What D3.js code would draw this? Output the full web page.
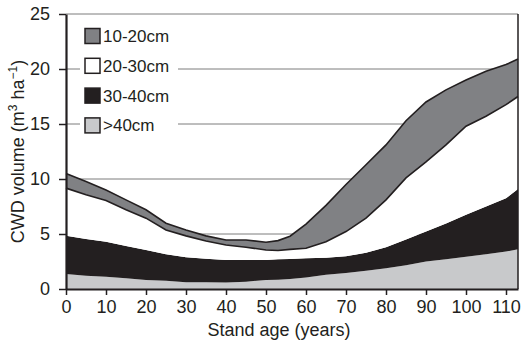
<!DOCTYPE html>
<html>
<head>
<meta charset="utf-8">
<script src="https://cdn.jsdelivr.net/npm/d3@7"></script>
<style>
  body { margin: 0; background: #fff; }
  svg { display: block; font-family: "Liberation Sans", Arial, sans-serif; }
</style>
</head>
<body>
<svg id="svg" width="521" height="344"></svg>
<script>
// stand age (years) where the curves were read
const ages = [0, 5, 10, 15, 20, 25, 30, 35, 40, 45, 50, 53, 56, 60, 65, 70, 75, 80, 85, 90, 95, 100, 105, 110, 113];

// CWD volume per diameter class (m3/ha), stacked bottom to top
const over40 = [1.37, 1.21, 1.12, 0.97, 0.82, 0.76, 0.62, 0.61, 0.58, 0.67, 0.82, 0.85, 0.91, 1.05, 1.30, 1.45, 1.65, 1.88, 2.15, 2.49, 2.70, 2.94, 3.15, 3.40, 3.61];
const c30to40 = [3.46, 3.34, 3.18, 2.95, 2.73, 2.40, 2.26, 2.15, 2.06, 1.97, 1.82, 1.85, 1.82, 1.75, 1.55, 1.52, 1.65, 1.92, 2.35, 2.73, 3.25, 3.80, 4.35, 4.86, 5.47];
const c20to30 = [4.34, 4.01, 3.75, 3.28, 2.89, 2.21, 1.95, 1.61, 1.36, 1.16, 0.91, 0.80, 0.87, 0.90, 1.45, 2.25, 3.14, 4.30, 5.60, 6.33, 7.15, 8.06, 8.20, 8.50, 8.42];
const c10to20 = [1.33, 1.21, 0.95, 0.90, 0.76, 0.61, 0.54, 0.46, 0.46, 0.66, 0.70, 0.90, 1.20, 2.20, 3.30, 4.28, 4.86, 5.00, 5.20, 5.45, 5.00, 4.20, 4.10, 3.64, 3.40];

const keys = [">40cm", "30-40cm", "20-30cm", "10-20cm"];
const legendOrder = ["10-20cm", "20-30cm", "30-40cm", ">40cm"];
const xTicks = [0, 10, 20, 30, 40, 50, 60, 70, 80, 90, 100, 110];
const yTicks = [0, 5, 10, 15, 20, 25];

const colors = {
    ">40cm": "#c8c9cb",
    "30-40cm": "#231f20",
    "20-30cm": "#ffffff",
    "10-20cm": "#808184"
};

// table for d3.stack
const rows = ages.map((a, i) => ({
    age: a,
    ">40cm": over40[i],
    "30-40cm": c30to40[i],
    "20-30cm": c20to30[i],
    "10-20cm": c10to20[i]
}));

const margins = { left: 66, right: 3, top: 14, bottom: 55 };
const dims = { width: 521, height: 344 };

const xScale = d3.scaleLinear()
    .domain([0, 113])
    .range([margins.left, dims.width - margins.right]);
const yScale = d3.scaleLinear()
    .domain([0, 25])
    .range([dims.height - margins.bottom, margins.top]);

const mySvg = d3.select("#svg");

// gridlines (hidden under the areas)
mySvg.append("g")
    .selectAll("line")
    .data(yTicks.filter(d => d > 0))
    .join("line")
    .attr("x1", xScale(0))
    .attr("x2", xScale(113))
    .attr("y1", d => yScale(d))
    .attr("y2", d => yScale(d))
    .attr("stroke", "#7d7d7d")
    .attr("stroke-width", 1);

const series = d3.stack().keys(keys)(rows);

const area = d3.area()
    .x(d => xScale(d.data.age))
    .y0(d => yScale(d[0]))
    .y1(d => yScale(d[1]));

mySvg.append("g")
    .selectAll("path")
    .data(series)
    .join("path")
    .attr("d", area)
    .attr("fill", d => colors[d.key]);

// outline of the 10-20cm band
const band = series[3];
const edge = (acc) => d3.line()
    .x(d => xScale(d.data.age))
    .y(d => yScale(acc(d)));

mySvg.append("path")
    .attr("d", edge(d => d[1])(band))
    .attr("fill", "none")
    .attr("stroke", "#231f20")
    .attr("stroke-width", 1.6);
mySvg.append("path")
    .attr("d", edge(d => d[0])(band))
    .attr("fill", "none")
    .attr("stroke", "#231f20")
    .attr("stroke-width", 1.6);

// right border
mySvg.append("line")
    .attr("x1", xScale(113)).attr("x2", xScale(113))
    .attr("y1", yScale(25)).attr("y2", yScale(0))
    .attr("stroke", "#231f20")
    .attr("stroke-width", 1.5);

// axes
const xAxis = d3.axisBottom(xScale)
    .tickValues(xTicks)
    .tickSize(6)
    .tickSizeOuter(0)
    .tickPadding(5);
const yAxis = d3.axisLeft(yScale)
    .tickValues(yTicks)
    .tickSize(7)
    .tickSizeOuter(0)
    .tickPadding(9);

const gx = mySvg.append("g")
    .attr("transform", `translate(0, ${yScale(0)})`)
    .call(xAxis);
const gy = mySvg.append("g")
    .attr("transform", `translate(${xScale(0)}, 0)`)
    .call(yAxis);

[gx, gy].forEach(g => {
    g.select(".domain").attr("stroke", "#231f20").attr("stroke-width", 2.2);
    g.selectAll(".tick line").attr("stroke", "#231f20").attr("stroke-width", 1.5);
    g.selectAll(".tick text")
        .attr("fill", "#231f20")
        .style("font-size", "18px")
        .style("font-family", "'Liberation Sans', Arial, sans-serif");
});

// axis titles
mySvg.append("text")
    .attr("x", 279)
    .attr("y", 336)
    .attr("text-anchor", "middle")
    .attr("fill", "#231f20")
    .style("font-size", "18px")
    .text("Stand age (years)");

const yt = mySvg.append("text")
    .attr("transform", `translate(24, ${yScale(12.5)}) rotate(-90)`)
    .attr("text-anchor", "middle")
    .attr("fill", "#231f20")
    .style("font-size", "18px");
yt.append("tspan").text("CWD volume (m");
yt.append("tspan").attr("dy", -7).style("font-size", "12px").text("3");
yt.append("tspan").attr("dy", 7).text(" ha");
yt.append("tspan").attr("dy", -7).style("font-size", "12px").text("\u22121");
yt.append("tspan").attr("dy", 7).text(")");

// legend
const legend = mySvg.append("g");
legend.append("rect")
    .attr("x", 80).attr("y", 22)
    .attr("width", 98).attr("height", 115)
    .attr("fill", "#fff");

const items = legend.selectAll("g.item")
    .data(legendOrder)
    .join("g")
    .attr("class", "item")
    .attr("transform", (d, i) => `translate(85, ${36 + i * 29.8})`);

items.append("rect")
    .attr("x", 0).attr("y", -7.5)
    .attr("width", 15).attr("height", 15)
    .attr("fill", d => colors[d])
    .attr("stroke", "#231f20")
    .attr("stroke-width", 1.5);

items.append("text")
    .attr("x", 18)
    .attr("y", 6)
    .attr("fill", "#231f20")
    .style("font-size", "17px")
    .text(d => d);
</script>
</body>
</html>
